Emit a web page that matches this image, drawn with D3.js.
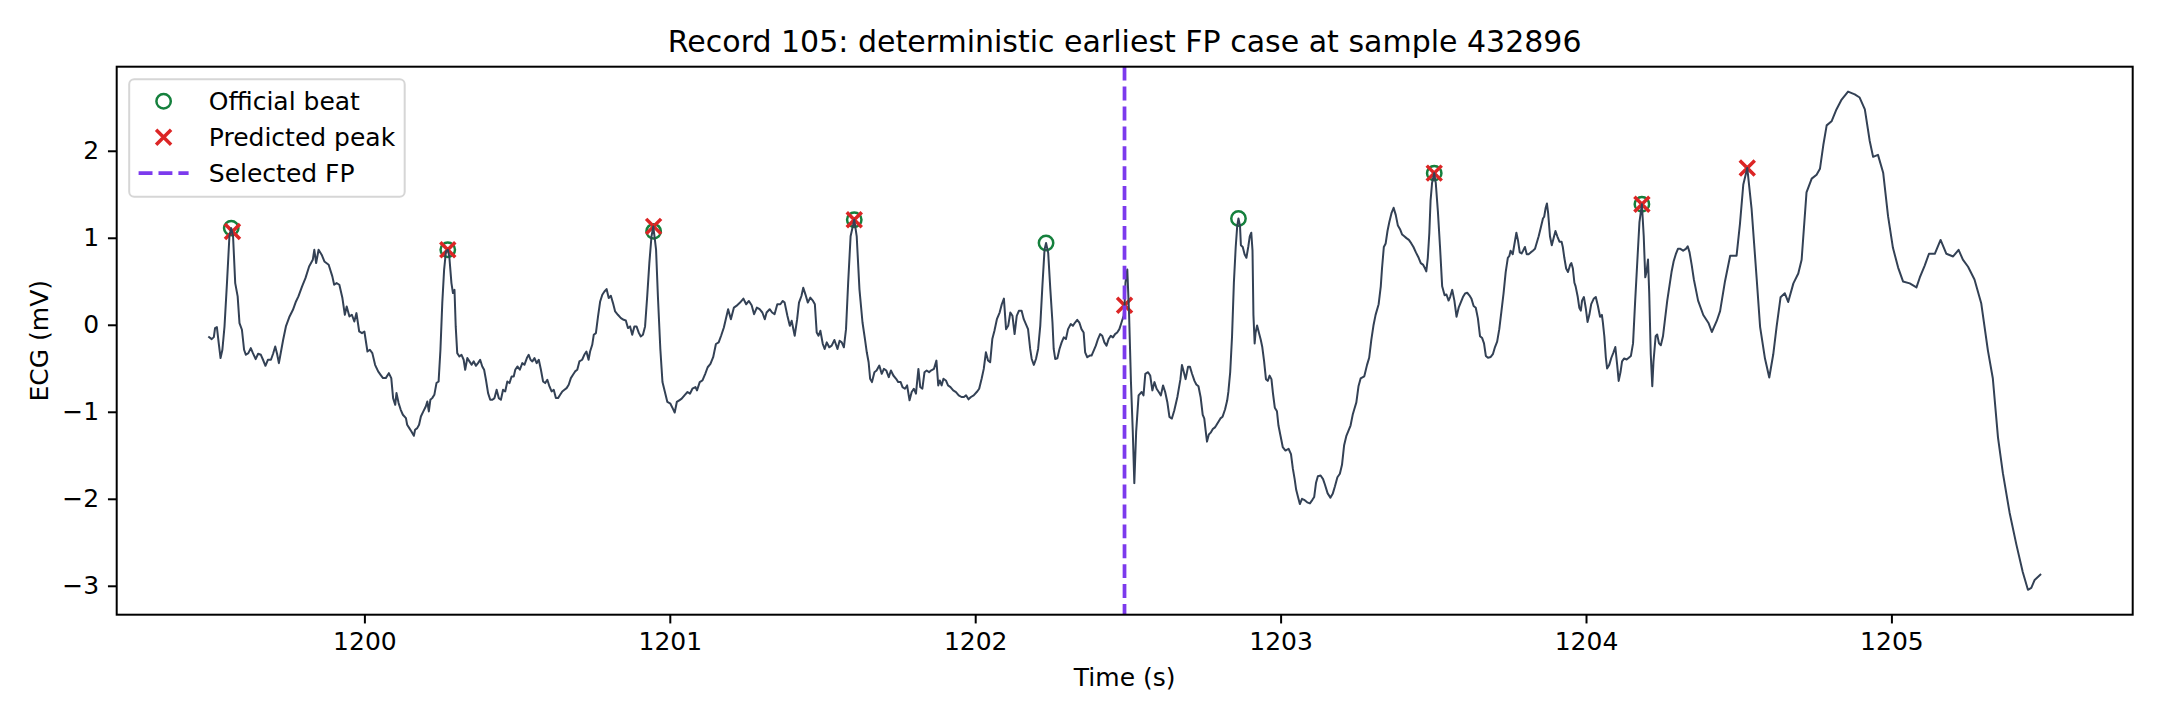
<!DOCTYPE html>
<html>
<head>
<meta charset="utf-8">
<script src="https://cdn.jsdelivr.net/npm/d3@7/dist/d3.min.js"></script>
<style>
body { margin: 0; background: #fff; }
svg { display: block; }
text { font-family: "DejaVu Sans", sans-serif; fill: #000; }
</style>
</head>
<body>
<div id="chart"></div>
<script>
// record / sampling info
const fs = 360;
const fpSample = 432896;
const recordId = 105;

// ECG trace: [time (s), ECG (mV)]
const ecgPoints = [
[1199.489,-0.134],[1199.500,-0.165],[1199.507,-0.142],[1199.511,-0.038],[1199.517,-0.027],[1199.523,-0.211],
[1199.529,-0.383],[1199.535,-0.287],[1199.542,-0.019],[1199.550,0.479],[1199.558,1.015],[1199.564,1.111],
[1199.570,1.015],[1199.577,0.479],[1199.585,0.326],[1199.591,0.019],[1199.599,-0.057],[1199.606,-0.287],
[1199.612,-0.345],[1199.620,-0.326],[1199.628,-0.268],[1199.635,-0.326],[1199.644,-0.395],[1199.652,-0.333],
[1199.661,-0.345],[1199.668,-0.402],[1199.676,-0.471],[1199.684,-0.402],[1199.694,-0.402],[1199.701,-0.333],
[1199.708,-0.249],[1199.714,-0.333],[1199.720,-0.441],[1199.725,-0.345],[1199.734,-0.172],[1199.743,-0.019],
[1199.755,0.096],[1199.766,0.172],[1199.776,0.268],[1199.784,0.326],[1199.796,0.441],[1199.807,0.536],
[1199.819,0.670],[1199.831,0.747],[1199.836,0.862],[1199.842,0.709],[1199.850,0.862],[1199.860,0.805],
[1199.869,0.728],[1199.883,0.690],[1199.895,0.556],[1199.901,0.460],[1199.909,0.479],[1199.918,0.460],
[1199.928,0.307],[1199.936,0.115],[1199.942,0.211],[1199.951,0.096],[1199.959,0.115],[1199.967,0.038],
[1199.974,0.134],[1199.983,-0.077],[1199.992,-0.096],[1200.000,-0.077],[1200.010,-0.307],[1200.018,-0.287],
[1200.026,-0.326],[1200.035,-0.460],[1200.045,-0.536],[1200.053,-0.575],[1200.061,-0.613],[1200.070,-0.613],
[1200.080,-0.556],[1200.088,-0.613],[1200.094,-0.843],[1200.101,-0.920],[1200.105,-0.785],[1200.112,-0.900],
[1200.119,-0.977],[1200.126,-1.034],[1200.136,-1.073],[1200.140,-1.149],[1200.147,-1.188],[1200.154,-1.226],
[1200.162,-1.276],[1200.166,-1.207],[1200.173,-1.188],[1200.179,-1.149],[1200.185,-1.054],[1200.193,-0.996],
[1200.201,-0.939],[1200.206,-0.881],[1200.211,-0.996],[1200.216,-0.862],[1200.222,-0.843],[1200.229,-0.805],
[1200.236,-0.670],[1200.243,-0.651],[1200.249,-0.287],[1200.255,0.249],[1200.261,0.632],[1200.267,0.843],
[1200.273,0.862],[1200.278,0.785],[1200.285,0.479],[1200.290,0.364],[1200.295,0.402],[1200.299,-0.019],
[1200.304,-0.326],[1200.311,-0.364],[1200.318,-0.345],[1200.325,-0.402],[1200.330,-0.517],[1200.337,-0.383],
[1200.344,-0.421],[1200.351,-0.460],[1200.358,-0.421],[1200.365,-0.471],[1200.372,-0.441],[1200.379,-0.402],
[1200.386,-0.479],[1200.392,-0.517],[1200.398,-0.632],[1200.405,-0.785],[1200.412,-0.862],[1200.419,-0.862],
[1200.426,-0.843],[1200.433,-0.747],[1200.440,-0.843],[1200.447,-0.862],[1200.454,-0.747],[1200.461,-0.766],
[1200.468,-0.651],[1200.475,-0.670],[1200.482,-0.594],[1200.489,-0.594],[1200.494,-0.517],[1200.501,-0.479],
[1200.509,-0.517],[1200.517,-0.441],[1200.524,-0.460],[1200.532,-0.383],[1200.538,-0.345],[1200.544,-0.402],
[1200.550,-0.421],[1200.557,-0.383],[1200.564,-0.441],[1200.571,-0.402],[1200.578,-0.517],[1200.585,-0.651],
[1200.592,-0.670],[1200.599,-0.632],[1200.606,-0.709],[1200.613,-0.766],[1200.620,-0.747],[1200.627,-0.843],
[1200.634,-0.843],[1200.641,-0.805],[1200.648,-0.766],[1200.655,-0.747],[1200.662,-0.728],[1200.669,-0.690],
[1200.676,-0.613],[1200.683,-0.575],[1200.690,-0.536],[1200.697,-0.517],[1200.704,-0.421],[1200.713,-0.402],
[1200.720,-0.345],[1200.727,-0.307],[1200.734,-0.402],[1200.739,-0.307],[1200.746,-0.230],[1200.751,-0.115],
[1200.758,-0.096],[1200.765,0.096],[1200.772,0.268],[1200.779,0.345],[1200.786,0.383],[1200.793,0.410],
[1200.800,0.307],[1200.807,0.333],[1200.814,0.249],[1200.821,0.153],[1200.830,0.115],[1200.840,0.077],
[1200.849,0.057],[1200.856,0.050],[1200.863,-0.038],[1200.870,-0.019],[1200.877,-0.115],[1200.884,-0.019],
[1200.891,-0.019],[1200.898,-0.088],[1200.905,-0.134],[1200.912,-0.115],[1200.919,-0.019],[1200.926,0.326],
[1200.933,0.709],[1200.940,1.015],[1200.946,1.131],[1200.955,0.864],[1200.961,0.331],[1200.969,-0.278],
[1200.976,-0.659],[1200.984,-0.773],[1200.992,-0.887],[1201.002,-0.907],[1201.010,-0.964],[1201.016,-1.009],
[1201.023,-0.887],[1201.031,-0.868],[1201.039,-0.849],[1201.048,-0.811],[1201.058,-0.773],[1201.066,-0.792],
[1201.074,-0.735],[1201.084,-0.716],[1201.089,-0.754],[1201.098,-0.659],[1201.107,-0.640],[1201.116,-0.564],
[1201.124,-0.488],[1201.133,-0.450],[1201.142,-0.373],[1201.151,-0.221],[1201.160,-0.202],[1201.168,-0.126],
[1201.177,-0.031],[1201.186,0.103],[1201.191,0.179],[1201.200,0.064],[1201.210,0.198],[1201.218,0.217],
[1201.230,0.255],[1201.241,0.301],[1201.250,0.236],[1201.259,0.274],[1201.268,0.224],[1201.276,0.122],
[1201.285,0.198],[1201.294,0.179],[1201.303,0.141],[1201.311,0.064],[1201.317,0.141],[1201.327,0.179],
[1201.335,0.141],[1201.343,0.122],[1201.352,0.236],[1201.362,0.236],[1201.370,0.274],[1201.376,0.255],
[1201.385,0.103],[1201.393,-0.012],[1201.399,0.046],[1201.409,-0.126],[1201.417,0.064],[1201.423,0.255],
[1201.431,0.331],[1201.437,0.426],[1201.444,0.350],[1201.452,0.255],[1201.460,0.312],[1201.469,0.274],
[1201.475,0.236],[1201.481,-0.088],[1201.487,-0.126],[1201.493,-0.069],[1201.501,-0.221],[1201.507,-0.278],
[1201.514,-0.202],[1201.522,-0.259],[1201.530,-0.240],[1201.539,-0.175],[1201.549,-0.278],[1201.556,-0.183],
[1201.563,-0.202],[1201.570,-0.259],[1201.577,-0.050],[1201.584,0.483],[1201.592,1.017],[1201.604,1.207],
[1201.612,1.017],[1201.621,0.407],[1201.631,0.026],[1201.639,-0.164],[1201.645,-0.316],[1201.651,-0.431],
[1201.656,-0.621],[1201.662,-0.659],[1201.670,-0.545],[1201.677,-0.526],[1201.686,-0.469],[1201.694,-0.564],
[1201.701,-0.507],[1201.709,-0.526],[1201.717,-0.602],[1201.724,-0.526],[1201.732,-0.583],[1201.741,-0.621],
[1201.748,-0.659],[1201.756,-0.659],[1201.762,-0.716],[1201.770,-0.735],[1201.777,-0.697],[1201.785,-0.868],
[1201.792,-0.773],[1201.799,-0.735],[1201.806,-0.792],[1201.814,-0.507],[1201.820,-0.716],[1201.827,-0.735],
[1201.834,-0.545],[1201.841,-0.526],[1201.849,-0.545],[1201.855,-0.526],[1201.865,-0.507],[1201.873,-0.412],
[1201.879,-0.697],[1201.884,-0.640],[1201.890,-0.697],[1201.896,-0.621],[1201.904,-0.640],[1201.911,-0.697],
[1201.919,-0.716],[1201.928,-0.754],[1201.937,-0.773],[1201.946,-0.811],[1201.955,-0.830],[1201.963,-0.830],
[1201.970,-0.811],[1201.978,-0.857],[1201.986,-0.830],[1201.995,-0.811],[1202.005,-0.773],[1202.013,-0.735],
[1202.021,-0.621],[1202.028,-0.507],[1202.035,-0.316],[1202.042,-0.411],[1202.049,-0.431],[1202.056,-0.164],
[1202.063,-0.069],[1202.071,0.064],[1202.080,0.141],[1202.087,0.236],[1202.094,0.301],[1202.101,-0.050],
[1202.108,-0.012],[1202.115,0.141],[1202.122,0.103],[1202.129,-0.107],[1202.136,0.103],[1202.143,0.160],
[1202.152,0.160],[1202.159,0.064],[1202.166,0.008],[1202.173,-0.050],[1202.180,-0.278],[1202.185,-0.393],
[1202.192,-0.461],[1202.199,-0.393],[1202.206,-0.278],[1202.213,-0.012],[1202.220,0.445],[1202.227,0.864],
[1202.232,0.940],[1202.239,0.826],[1202.246,0.407],[1202.253,0.026],[1202.257,-0.278],[1202.262,-0.393],
[1202.269,-0.385],[1202.276,-0.278],[1202.283,-0.202],[1202.290,-0.145],[1202.297,-0.164],[1202.304,-0.050],
[1202.313,0.008],[1202.320,-0.012],[1202.327,0.026],[1202.334,0.057],[1202.341,0.026],[1202.348,-0.050],
[1202.355,-0.088],[1202.360,-0.316],[1202.367,-0.373],[1202.375,-0.354],[1202.381,-0.354],[1202.388,-0.297],
[1202.395,-0.240],[1202.402,-0.164],[1202.409,-0.107],[1202.416,-0.126],[1202.423,-0.202],[1202.430,-0.240],
[1202.437,-0.164],[1202.444,-0.126],[1202.451,-0.145],[1202.458,-0.107],[1202.465,-0.088],[1202.472,-0.050],
[1202.479,0.026],[1202.486,0.103],[1202.489,0.224],[1202.492,0.483],[1202.498,0.636],[1202.504,0.103],
[1202.510,-0.659],[1202.516,-1.231],[1202.521,-1.820],[1202.527,-1.231],[1202.535,-0.811],[1202.545,-0.773],
[1202.551,-0.811],[1202.557,-0.564],[1202.566,-0.545],[1202.573,-0.583],[1202.580,-0.754],[1202.587,-0.659],
[1202.594,-0.735],[1202.601,-0.773],[1202.608,-0.811],[1202.615,-0.697],[1202.622,-0.773],[1202.629,-0.887],
[1202.636,-1.059],[1202.644,-1.078],[1202.652,-0.983],[1202.662,-0.830],[1202.672,-0.625],[1202.677,-0.461],
[1202.683,-0.543],[1202.689,-0.625],[1202.697,-0.481],[1202.703,-0.481],[1202.710,-0.563],[1202.718,-0.645],
[1202.724,-0.686],[1202.731,-0.707],[1202.738,-0.830],[1202.745,-1.035],[1202.750,-1.076],[1202.754,-1.199],
[1202.759,-1.343],[1202.765,-1.261],[1202.771,-1.240],[1202.778,-1.199],[1202.785,-1.179],[1202.789,-1.158],
[1202.796,-1.117],[1202.803,-1.076],[1202.810,-1.056],[1202.818,-0.974],[1202.825,-0.871],[1202.829,-0.769],
[1202.835,-0.543],[1202.841,-0.132],[1202.847,0.483],[1202.853,0.894],[1202.858,1.140],[1202.862,1.222],
[1202.867,1.140],[1202.870,0.914],[1202.876,0.894],[1202.882,0.811],[1202.888,0.770],[1202.894,0.894],
[1202.899,1.017],[1202.904,1.058],[1202.908,0.852],[1202.911,0.114],[1202.915,-0.214],[1202.918,-0.091],
[1202.923,-0.009],[1202.929,-0.091],[1202.935,-0.173],[1202.940,-0.256],[1202.946,-0.420],[1202.952,-0.625],
[1202.958,-0.645],[1202.964,-0.584],[1202.970,-0.625],[1202.975,-0.789],[1202.981,-0.953],[1202.988,-0.994],
[1202.993,-1.158],[1203.000,-1.281],[1203.007,-1.405],[1203.016,-1.446],[1203.026,-1.425],[1203.034,-1.487],
[1203.040,-1.651],[1203.046,-1.774],[1203.051,-1.897],[1203.057,-1.979],[1203.063,-2.061],[1203.070,-2.000],
[1203.077,-2.012],[1203.087,-2.041],[1203.096,-2.053],[1203.104,-2.012],[1203.110,-1.979],[1203.116,-1.815],
[1203.122,-1.741],[1203.131,-1.733],[1203.139,-1.774],[1203.145,-1.836],[1203.154,-1.938],[1203.163,-1.987],
[1203.171,-1.938],[1203.178,-1.856],[1203.186,-1.753],[1203.194,-1.712],[1203.201,-1.610],[1203.208,-1.384],
[1203.215,-1.281],[1203.222,-1.220],[1203.229,-1.158],[1203.236,-1.035],[1203.241,-0.974],[1203.248,-0.892],
[1203.255,-0.707],[1203.262,-0.617],[1203.274,-0.592],[1203.283,-0.461],[1203.290,-0.379],[1203.297,-0.173],
[1203.304,-0.009],[1203.311,0.114],[1203.321,0.237],[1203.328,0.442],[1203.332,0.647],[1203.338,0.894],
[1203.344,0.935],[1203.350,1.078],[1203.356,1.181],[1203.363,1.283],[1203.370,1.345],[1203.377,1.263],
[1203.384,1.140],[1203.391,1.099],[1203.398,1.037],[1203.405,1.017],[1203.412,0.996],[1203.420,0.976],
[1203.428,0.935],[1203.435,0.894],[1203.443,0.832],[1203.452,0.770],[1203.459,0.709],[1203.467,0.688],
[1203.473,0.647],[1203.477,0.614],[1203.482,0.770],[1203.487,1.058],[1203.491,1.427],[1203.496,1.632],
[1203.503,1.743],[1203.508,1.632],[1203.515,1.304],[1203.522,0.894],[1203.529,0.442],[1203.537,0.339],
[1203.543,0.348],[1203.550,0.278],[1203.555,0.319],[1203.562,0.401],[1203.569,0.278],[1203.576,0.093],
[1203.583,0.196],[1203.590,0.257],[1203.597,0.319],[1203.604,0.360],[1203.611,0.368],[1203.618,0.339],
[1203.625,0.298],[1203.632,0.216],[1203.639,0.196],[1203.646,0.073],[1203.653,-0.132],[1203.660,-0.153],
[1203.666,-0.214],[1203.672,-0.358],[1203.679,-0.379],[1203.688,-0.370],[1203.695,-0.338],[1203.702,-0.256],
[1203.709,-0.194],[1203.716,-0.050],[1203.723,0.155],[1203.730,0.360],[1203.737,0.606],[1203.744,0.770],
[1203.749,0.791],[1203.753,0.852],[1203.760,0.811],[1203.765,0.914],[1203.772,1.058],[1203.777,0.976],
[1203.783,0.832],[1203.789,0.820],[1203.794,0.852],[1203.800,0.894],[1203.806,0.811],[1203.812,0.811],
[1203.819,0.832],[1203.826,0.852],[1203.833,0.873],[1203.838,0.935],[1203.845,1.017],[1203.852,1.119],
[1203.859,1.222],[1203.863,1.242],[1203.868,1.345],[1203.872,1.394],[1203.876,1.283],[1203.882,1.017],
[1203.888,0.914],[1203.894,0.996],[1203.900,1.078],[1203.906,1.017],[1203.913,0.955],[1203.920,0.955],
[1203.924,0.894],[1203.929,0.770],[1203.935,0.647],[1203.941,0.606],[1203.948,0.688],[1203.952,0.709],
[1203.957,0.647],[1203.962,0.483],[1203.966,0.442],[1203.973,0.319],[1203.978,0.196],[1203.983,0.163],
[1203.987,0.278],[1203.993,0.319],[1203.999,0.196],[1204.005,0.032],[1204.011,0.114],[1204.017,0.237],
[1204.025,0.298],[1204.032,0.319],[1204.039,0.216],[1204.046,0.093],[1204.052,0.114],[1204.055,0.032],
[1204.060,-0.132],[1204.065,-0.379],[1204.069,-0.502],[1204.076,-0.461],[1204.083,-0.379],[1204.090,-0.317],
[1204.096,-0.256],[1204.102,-0.461],[1204.107,-0.645],[1204.113,-0.543],[1204.118,-0.420],[1204.125,-0.387],
[1204.133,-0.399],[1204.140,-0.379],[1204.147,-0.358],[1204.154,-0.214],[1204.161,0.278],[1204.168,0.730],
[1204.175,1.181],[1204.183,1.386],[1204.189,1.017],[1204.194,0.545],[1204.198,0.606],[1204.203,0.750],
[1204.207,0.360],[1204.212,-0.338],[1204.217,-0.707],[1204.221,-0.420],[1204.228,-0.132],[1204.233,-0.112],
[1204.239,-0.214],[1204.245,-0.235],[1204.252,-0.132],[1204.259,0.073],[1204.266,0.278],[1204.273,0.442],
[1204.280,0.606],[1204.287,0.730],[1204.294,0.811],[1204.301,0.873],[1204.309,0.873],[1204.318,0.852],
[1204.327,0.873],[1204.333,0.902],[1204.339,0.832],[1204.346,0.688],[1204.353,0.524],[1204.360,0.401],
[1204.367,0.278],[1204.384,0.112],[1204.401,0.021],[1204.412,-0.083],[1204.428,0.044],[1204.439,0.157],
[1204.455,0.498],[1204.472,0.794],[1204.493,0.794],[1204.504,1.157],[1204.515,1.612],[1204.528,1.803],
[1204.542,1.339],[1204.559,0.521],[1204.570,-0.024],[1204.586,-0.388],[1204.600,-0.606],[1204.613,-0.342],
[1204.624,-0.024],[1204.637,0.316],[1204.651,0.362],[1204.662,0.262],[1204.679,0.476],[1204.695,0.589],
[1204.706,0.748],[1204.722,1.521],[1204.739,1.680],[1204.755,1.725],[1204.766,1.793],[1204.777,2.066],
[1204.788,2.292],[1204.804,2.339],[1204.820,2.475],[1204.837,2.589],[1204.858,2.680],[1204.880,2.648],
[1204.896,2.612],[1204.913,2.475],[1204.929,2.112],[1204.940,1.930],[1204.956,1.953],[1204.973,1.748],
[1204.989,1.248],[1205.005,0.885],[1205.022,0.657],[1205.038,0.498],[1205.060,0.476],[1205.082,0.430],
[1205.093,0.544],[1205.109,0.680],[1205.123,0.816],[1205.142,0.816],[1205.161,0.975],[1205.180,0.816],
[1205.202,0.785],[1205.220,0.862],[1205.234,0.748],[1205.251,0.667],[1205.272,0.521],[1205.294,0.248],
[1205.316,-0.297],[1205.332,-0.615],[1205.349,-1.297],[1205.365,-1.706],[1205.387,-2.160],[1205.409,-2.524],
[1205.430,-2.842],[1205.447,-3.046],[1205.458,-3.024],[1205.469,-2.933],[1205.490,-2.865]
];

// annotated beats (official) and detector output (predicted)
const beatTime = [1199.564, 1200.273, 1200.947, 1201.604, 1202.232, 1202.862, 1203.503, 1204.183];
const beatMv   = [1.111, 0.862, 1.074, 1.207, 0.940, 1.222, 1.743, 1.386];
const predTime = [1199.568, 1200.273, 1200.947, 1201.604, 1202.489, 1203.503, 1204.183, 1204.528];
const predMv   = [1.073, 0.862, 1.131, 1.207, 0.224, 1.743, 1.386, 1.803];

const xTicks = [1200, 1201, 1202, 1203, 1204, 1205];
const yTicks = [-3, -2, -1, 0, 1, 2];
const legendLabels = ["Official beat", "Predicted peak", "Selected FP"];

const colors = { ecg: "#334155", beat: "#15803d", pred: "#dc2626", fp: "#7c3aed" };

const width = 2160, height = 720;
const plotLeft = 116.7, plotRight = 2132.7, plotTop = 66.7, plotBottom = 614.7;
const fontSize = 25;

const svg = d3.select("#chart").append("svg")
  .attr("width", width)
  .attr("height", height)
  .style("background", "#fff");

// matplotlib-like 5% margins around the data
const tExt = d3.extent(ecgPoints, d => d[0]);
const vExt = d3.extent(ecgPoints, d => d[1]);
const tPad = (tExt[1] - tExt[0]) * 0.05;
const vPad = (vExt[1] - vExt[0]) * 0.05;

const x = d3.scaleLinear().domain([tExt[0] - tPad, tExt[1] + tPad]).range([plotLeft, plotRight]);
const y = d3.scaleLinear().domain([vExt[0] - vPad, vExt[1] + vPad]).range([plotBottom, plotTop]);

svg.append("defs").append("clipPath").attr("id", "plot-clip")
  .append("rect")
  .attr("x", plotLeft).attr("y", plotTop)
  .attr("width", plotRight - plotLeft).attr("height", plotBottom - plotTop);

const plot = svg.append("g").attr("clip-path", "url(#plot-clip)");

const beats = beatTime.map((t, i) => ({ t: t, v: beatMv[i] }));
const preds = predTime.map((t, i) => ({ t: t, v: predMv[i] }));

// markers sit below the lines, like matplotlib's default zorder
plot.append("g").selectAll("circle")
  .data(beats)
  .join("circle")
  .attr("cx", d => x(d.t))
  .attr("cy", d => y(d.v))
  .attr("r", 7.2)
  .attr("fill", "none")
  .attr("stroke", colors.beat)
  .attr("stroke-width", 2.5);

const xMark = "M-7.5,-7.5L7.5,7.5M-7.5,7.5L7.5,-7.5";
plot.append("g").selectAll("path")
  .data(preds)
  .join("path")
  .attr("d", xMark)
  .attr("transform", d => `translate(${x(d.t)},${y(d.v)})`)
  .attr("fill", "none")
  .attr("stroke", colors.pred)
  .attr("stroke-width", 3.5);

const line = d3.line().x(d => x(d[0])).y(d => y(d[1]));
plot.append("path")
  .datum(ecgPoints)
  .attr("d", line)
  .attr("fill", "none")
  .attr("stroke", colors.ecg)
  .attr("stroke-width", 2)
  .attr("stroke-linejoin", "round");

// selected false positive
const fpTime = fpSample / fs;
plot.append("line")
  .attr("x1", x(fpTime)).attr("x2", x(fpTime))
  .attr("y1", plotTop).attr("y2", plotBottom)
  .attr("stroke", colors.fp)
  .attr("stroke-width", 3.75)
  .attr("stroke-dasharray", "13.9,6");

// axes
const fmt = d => d < 0 ? "\u2212" + Math.abs(d) : String(d);

const xAxis = svg.append("g")
  .attr("transform", `translate(0,${plotBottom})`)
  .call(d3.axisBottom(x).tickValues(xTicks).tickFormat(fmt).tickSize(8.75).tickPadding(8.75).tickSizeOuter(0));

const yAxis = svg.append("g")
  .attr("transform", `translate(${plotLeft},0)`)
  .call(d3.axisLeft(y).tickValues(yTicks).tickFormat(fmt).tickSize(8.75).tickPadding(8.75).tickSizeOuter(0));

[xAxis, yAxis].forEach(g => {
  g.select(".domain").remove();
  g.selectAll(".tick line").attr("stroke", "#000").attr("stroke-width", 2);
  g.selectAll(".tick text")
    .attr("fill", "#000")
    .style("font-family", "'DejaVu Sans', sans-serif")
    .style("font-size", fontSize + "px");
});

// spines
svg.append("rect")
  .attr("x", plotLeft).attr("y", plotTop)
  .attr("width", plotRight - plotLeft).attr("height", plotBottom - plotTop)
  .attr("fill", "none")
  .attr("stroke", "#000")
  .attr("stroke-width", 2);

// title and labels
const midX = (plotLeft + plotRight) / 2;
svg.append("text")
  .attr("x", midX).attr("y", 51.7)
  .attr("text-anchor", "middle")
  .style("font-size", "30px")
  .text(`Record ${recordId}: deterministic earliest FP case at sample ${fpSample}`);

svg.append("text")
  .attr("x", midX).attr("y", 685.5)
  .attr("text-anchor", "middle")
  .style("font-size", fontSize + "px")
  .text("Time (s)");

svg.append("text")
  .attr("transform", `translate(48,${(plotTop + plotBottom) / 2}) rotate(-90)`)
  .attr("text-anchor", "middle")
  .style("font-size", fontSize + "px")
  .text("ECG (mV)");

// legend, upper left
const legend = svg.append("g").attr("transform", `translate(${plotLeft + 12.5},${plotTop + 12.5})`);
legend.append("rect")
  .attr("width", 275.5).attr("height", 117.5)
  .attr("rx", 5).attr("ry", 5)
  .attr("fill", "#fff").attr("fill-opacity", 0.8)
  .attr("stroke", "#cccccc").attr("stroke-opacity", 0.8)
  .attr("stroke-width", 2);

const rowY = [22, 58, 94];
const handleX = 34.4;
legend.append("circle")
  .attr("cx", handleX).attr("cy", rowY[0])
  .attr("r", 7.2)
  .attr("fill", "none").attr("stroke", colors.beat).attr("stroke-width", 2.5);
legend.append("path")
  .attr("d", xMark)
  .attr("transform", `translate(${handleX},${rowY[1]})`)
  .attr("fill", "none").attr("stroke", colors.pred).attr("stroke-width", 3.5);
legend.append("line")
  .attr("x1", handleX - 25).attr("x2", handleX + 25)
  .attr("y1", rowY[2]).attr("y2", rowY[2])
  .attr("stroke", colors.fp).attr("stroke-width", 3.75)
  .attr("stroke-dasharray", "13.9,6");

legend.selectAll("text.label")
  .data(legendLabels)
  .join("text")
  .attr("class", "label")
  .attr("x", 79.6)
  .attr("y", (d, i) => rowY[i] + 8.6)
  .style("font-size", fontSize + "px")
  .text(d => d);
</script>
</body>
</html>
